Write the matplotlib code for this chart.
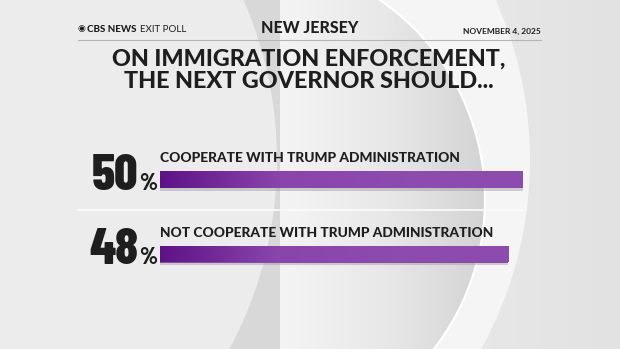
import numpy as np
import matplotlib.pyplot as plt
from matplotlib.patches import Circle
from matplotlib.colors import LinearSegmentedColormap

# data
answers = ["COOPERATE WITH TRUMP ADMINISTRATION", "NOT COOPERATE WITH TRUMP ADMINISTRATION"]
shares = [50, 48]
state = "NEW JERSEY"
poll_date = "NOVEMBER 4, 2025"
title_lines = ["ON IMMIGRATION ENFORCEMENT,", "THE NEXT GOVERNOR SHOULD..."]

W, H = 620, 349
dark = "#1e1e1e"
head_font = ["Lato", "DejaVu Sans"]
num_font = ["Barlow Condensed", "DejaVu Sans"]

fig = plt.figure(figsize=(W / 100, H / 100), dpi=100)

# ------------------------ background (pixel coords) ------------------------
bg = fig.add_axes([0, 0, 1, 1])
bg.set_xlim(0, W)
bg.set_ylim(H, 0)
bg.axis("off")

gx = np.linspace(0, 1, 256).reshape(1, -1)
bg.imshow(gx, cmap=LinearSegmentedColormap.from_list("b", ["#e8e8e8", "#eeeeee", "#e2e2e2"]),
          extent=(0, W, H, 0), aspect="auto", zorder=0)
# outer ring of the eye
bg.add_patch(Circle((140, 160), 390, color="#f5f5f5", lw=0, zorder=1))
# grey swoosh with bright edge
sw = Circle((242, 200), 243, color="#d8d8d8", lw=0, zorder=2)
bg.add_patch(sw)
im = bg.imshow(gx, cmap=LinearSegmentedColormap.from_list("s", ["#f4f4f4", "#e8e8e8", "#d2d2d2"]),
               extent=(280, 490, H, 0), aspect="auto", zorder=2.1)
im.set_clip_path(sw)
bg.add_patch(Circle((242, 200), 243, fill=False, ec="white", lw=1.6, zorder=2.2))
# inner left lobe
bg.add_patch(Circle((-123, 160), 400, color="#ececec", lw=0, zorder=3))

# ------------------------ header ------------------------
bg.text(78, 29, "◉", fontsize=6.5, color=dark, va="center", ha="left", zorder=5)
bg.text(87, 29, "CBS NEWS", fontsize=7, fontweight="black", family=head_font,
        color=dark, va="center", ha="left", zorder=5)
bg.text(140, 29, "EXIT POLL", fontsize=7, family=head_font, color=dark,
        va="center", ha="left", zorder=5)
bg.text(310, 28, state, fontsize=11.5, fontweight="black", family=head_font,
        color=dark, va="center", ha="center", zorder=5)
bg.text(541, 31, poll_date, fontsize=6, fontweight="bold", family=head_font, color=dark,
        va="center", ha="right", zorder=5)
bg.plot([78, 541], [40, 40], color="#b5b5b5", lw=0.8, zorder=5)
for i, line in enumerate(title_lines):
    bg.text(309, 59 + 22 * i, line, fontsize=16.8, fontweight="black", family=head_font,
            color=dark, va="center", ha="center", zorder=5)
bg.plot([78, 523], [210, 210], color="#fbfbfb", lw=1.2, zorder=5)

# ------------------------ bars: x in percent, y in pixels ------------------------
k = (523 - 160) / 50
ax = fig.add_axes([160 / W, 0, (W - 160) / W, 1])
ax.set_xlim(0, (W - 160) / k)
ax.set_ylim(H, 0)
ax.axis("off")
ax.patch.set_alpha(0)

centers = [179.5, 254]
bars = ax.barh(centers, shares, height=17, color="#8a48ad", zorder=3)
bar_cmap = LinearSegmentedColormap.from_list("p", ["#5e1287", "#8a45ad", "#8d4aaf", "#8d4aaf"])
for b, c, s, lab in zip(bars, centers, shares, answers):
    g = ax.imshow(gx, cmap=bar_cmap, aspect="auto", extent=(0, s, c + 8.5, c - 8.5), zorder=4)
    g.set_clip_path(b)
    # shadow
    ax.barh(c + 2.5, s, height=17, color="#9a9a9a", alpha=0.45, zorder=2)
    bg.text(160, c - 21, lab, fontsize=9.9, fontweight="black", family=head_font,
            color=dark, va="center", ha="left", zorder=5)
    bg.text(138, c + 10, f"{s}", fontsize=37, fontweight=800, family=num_font,
            color=dark, va="baseline", ha="right", zorder=5)
    bg.text(139, c + 10, "%", fontsize=17, fontweight=800, family=num_font,
            color=dark, va="baseline", ha="left", zorder=5)

fig.savefig("out.png", dpi=100)
